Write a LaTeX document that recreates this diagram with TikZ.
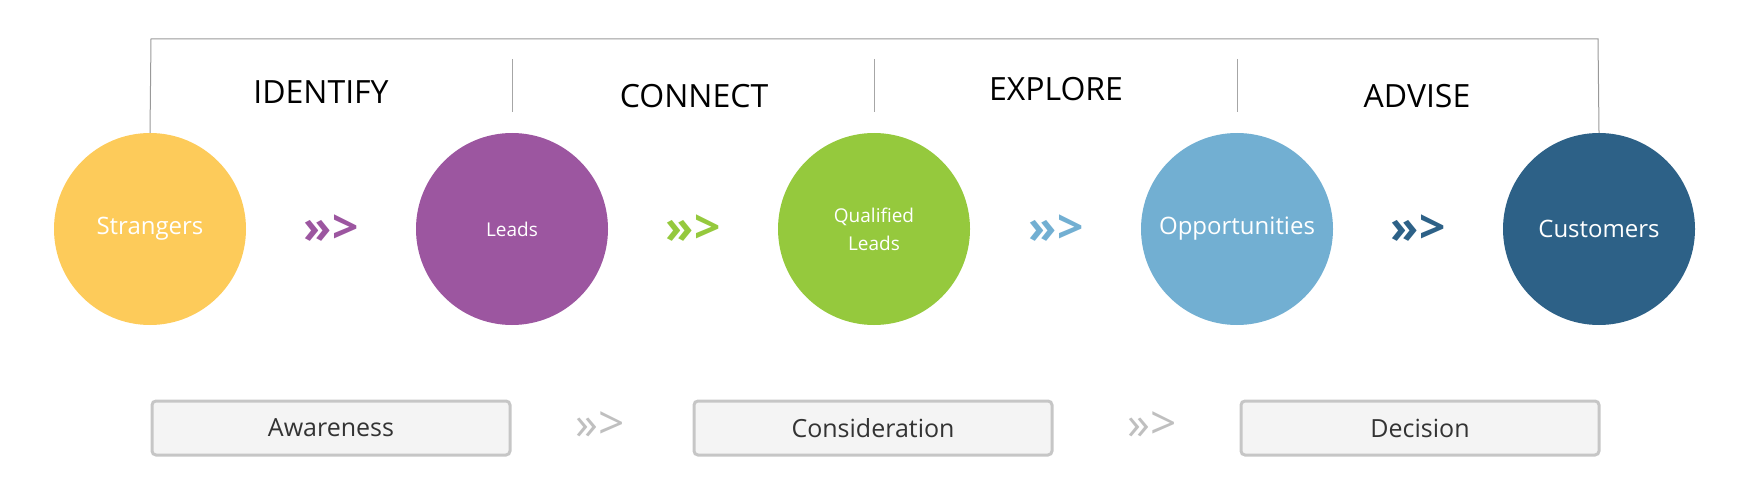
\documentclass[tikz,border=0pt]{standalone}
\usepackage{fontspec}
\setmainfont{Open Sans}
\begin{document}
\begin{tikzpicture}[x=1pt,y=-1pt,
  circ/.style={circle,minimum size=192pt,inner sep=0pt,text=white,font=\fontsize{24}{26}\selectfont,align=center},
  stage/.style={font=\fontsize{32}{34}\selectfont,text=black},
  chev/.style={font=\bfseries\fontsize{46}{46}\selectfont},
  gchev/.style={font=\fontsize{46}{46}\selectfont,text=gray!50},
  phase/.style={draw=gray!45,line width=3pt,fill=cyan!3!gray!10,rounded corners=4pt,minimum width=358pt,minimum height=54pt,font=\fontsize{25}{27}\selectfont,text=black!80}]
\definecolor{cy}{HTML}{FDCB5A}\definecolor{cp}{HTML}{9C56A0}\definecolor{cg}{HTML}{95C93D}
\definecolor{cl}{HTML}{72AFD2}\definecolor{cd}{HTML}{2D6187}
\useasboundingbox (0,0) rectangle (1750,500);
\node[circ,fill=cy] (s) at (150,229) {Strangers};
\node[circ,fill=cp,font=\fontsize{19}{22}\selectfont] (l) at (512,229) {Leads};
\node[circ,fill=cg,font=\fontsize{19}{28}\selectfont] (q) at (874,229) {Qualified\\Leads};
\node[circ,fill=cl] (o) at (1237,229) {Opportunities};
\node[circ,fill=cd] (c) at (1599,229) {Customers};
\coordinate (tl) at (151,39); \coordinate (tr) at (1598,39);
\draw[gray!80,line width=1pt] (s.north) -- (tl) -- (tr) -- (c.north);
\foreach \x in {512,874,1237}{\draw[gray!70,line width=1pt] (\x,59) coordinate (d\x) -- (\x,112);}
\node[stage] (n1) at (321,92) {IDENTIFY};
\node[stage] (n2) at (694,96) {CONNECT};
\node[stage] (n3) at (1056,89) {EXPLORE};
\node[stage] (n4) at (1417,96) {ADVISE};
\node[chev,text=cp] (a1) at (331,229) {>>>};
\node[chev,text=cg] (a2) at (693,229) {>>>};
\node[chev,text=cl] (a3) at (1056,229) {>>>};
\node[chev,text=cd] (a4) at (1418,229) {>>>};
\node[phase] (p1) at (331,428) {Awareness};
\node[phase] (p2) at (873,428) {Consideration};
\node[phase] (p3) at (1420,428) {Decision};
\node[gchev] (g1) at (600,426) {>>>};
\node[gchev] (g2) at (1152,426) {>>>};
\end{tikzpicture}
\end{document}
